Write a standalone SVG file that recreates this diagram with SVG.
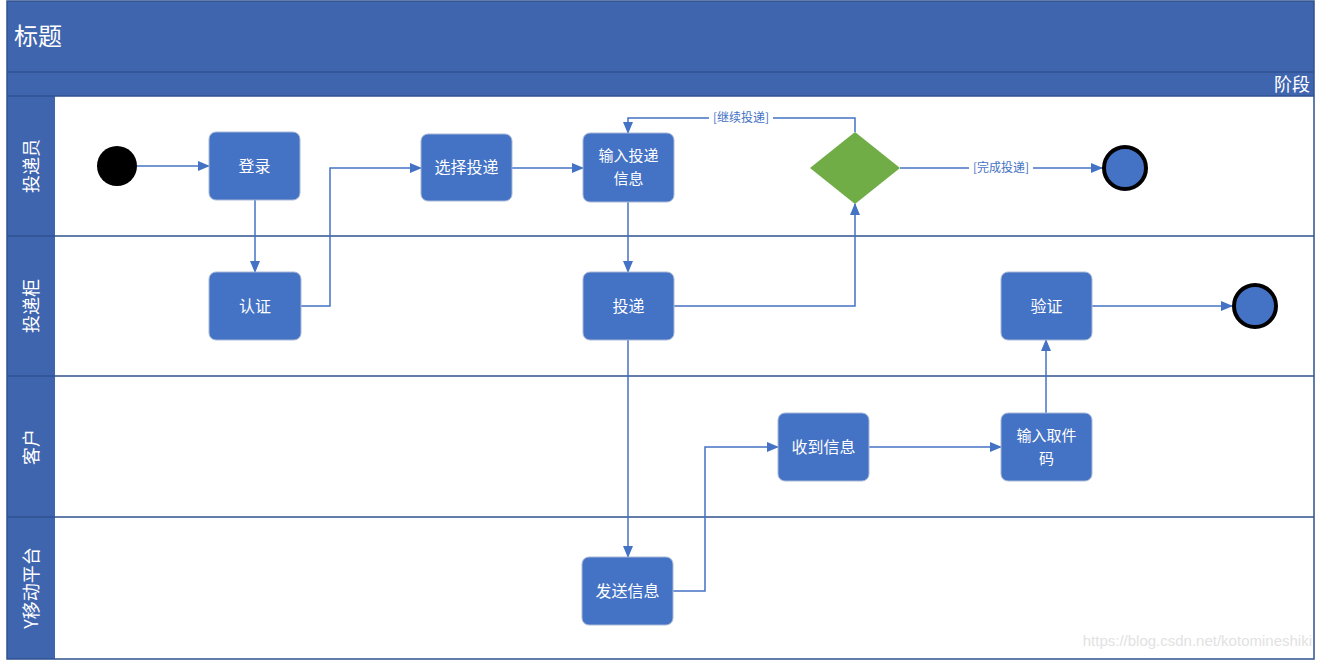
<svg xmlns="http://www.w3.org/2000/svg" width="1322" height="660" viewBox="0 0 1322 660">
<defs>
<style>
.hdr{fill:#3F65AE}
.sep{stroke:#2F528F;stroke-width:1.5;fill:none}
.node rect{fill:#4472C4;stroke:#A9B8D6;stroke-width:1}
.nt{font-family:"Noto Sans CJK SC","Liberation Sans",sans-serif;font-size:16px;fill:#FFFFFF;text-anchor:middle}
.nt2{font-family:"Noto Sans CJK SC","Liberation Sans",sans-serif;font-size:15px;fill:#FFFFFF;text-anchor:middle}
.lt{font-family:"Noto Sans CJK SC","Liberation Sans",sans-serif;font-size:18px;fill:#FFFFFF;text-anchor:middle}
.edge{stroke:#4472C4;stroke-width:1.5;fill:none}
.el{font-family:"Noto Sans CJK SC","Liberation Sans",sans-serif;font-size:12px;fill:#4472C4;text-anchor:middle}
</style>
<marker id="arr" markerWidth="12" markerHeight="10" refX="11" refY="5" orient="auto" markerUnits="userSpaceOnUse">
<path d="M0,0 L12,5 L0,10 Z" fill="#4472C4"/>
</marker>
</defs>
<rect width="1322" height="660" fill="#FFFFFF"/>
<g id="frame">
<rect x="7" y="1" width="1307" height="95" class="hdr"/>
<line x1="7" y1="72" x2="1314" y2="72" class="sep"/>
<rect x="7" y="96" width="48" height="563" class="hdr"/>
<rect x="7" y="1" width="1307" height="658" class="sep"/>
<line x1="7" y1="96" x2="1314" y2="96" class="sep"/>
<line x1="7" y1="236" x2="1314" y2="236" class="sep"/>
<line x1="7" y1="376" x2="1314" y2="376" class="sep"/>
<line x1="7" y1="517" x2="1314" y2="517" class="sep"/>
<text x="14" y="45" font-family="Noto Sans CJK SC,Liberation Sans,sans-serif" font-size="24" fill="#FFFFFF">标题</text>
<text x="1310" y="91" font-family="Noto Sans CJK SC,Liberation Sans,sans-serif" font-size="18" fill="#FFFFFF" text-anchor="end">阶段</text>
<text class="lt" transform="translate(38,166) rotate(-90)">投递员</text>
<text class="lt" transform="translate(38,306) rotate(-90)">投递柜</text>
<text class="lt" transform="translate(38,447) rotate(-90)">客户</text>
<text class="lt" transform="translate(38,588) rotate(-90)">Y移动平台</text>
</g>
<g id="connectors">
<path class="edge" d="M137,166 H209" marker-end="url(#arr)"/>
<path class="edge" d="M255,200 V272" marker-end="url(#arr)"/>
<path class="edge" d="M301,306 H330 V168 H421" marker-end="url(#arr)"/>
<path class="edge" d="M512,168 H583" marker-end="url(#arr)"/>
<path class="edge" d="M628,202 V272" marker-end="url(#arr)"/>
<path class="edge" d="M674,306 H855 V204" marker-end="url(#arr)"/>
<path class="edge" d="M855,132 V118 H628 V133" marker-end="url(#arr)"/>
<path class="edge" d="M900,168 H1102" marker-end="url(#arr)"/>
<path class="edge" d="M628,340 V557" marker-end="url(#arr)"/>
<path class="edge" d="M673,591 H705 V447 H778" marker-end="url(#arr)"/>
<path class="edge" d="M869,447 H1001" marker-end="url(#arr)"/>
<path class="edge" d="M1046,413 V340" marker-end="url(#arr)"/>
<path class="edge" d="M1092,306 H1232" marker-end="url(#arr)"/>
<rect x="709" y="110" width="64" height="16" fill="#FFFFFF"/>
<text class="el" x="741" y="122">[继续投递]</text>
<rect x="969" y="160" width="64" height="16" fill="#FFFFFF"/>
<text class="el" x="1001" y="172">[完成投递]</text>
</g>
<g id="start"><circle cx="117" cy="166" r="20" fill="#000000"/></g>
<g id="n_login" class="node"><rect x="209" y="132" width="91" height="68" rx="7"/><text class="nt" x="254.5" y="172">登录</text></g>
<g id="n_auth" class="node"><rect x="209" y="272" width="92" height="68" rx="7"/><text class="nt" x="255" y="312">认证</text></g>
<g id="n_select" class="node"><rect x="421" y="134" width="91" height="67" rx="7"/><text class="nt" x="466.5" y="173">选择投递</text></g>
<g id="n_input" class="node"><rect x="583" y="133" width="91" height="69" rx="7"/><text class="nt2" x="628.5" y="161">输入投递</text><text class="nt2" x="628.5" y="184">信息</text></g>
<g id="n_deliver" class="node"><rect x="583" y="272" width="91" height="68" rx="7"/><text class="nt" x="628.5" y="312">投递</text></g>
<g id="decision"><polygon points="855,132 900,168 855,204 810,168" fill="#70AD47"/></g>
<g id="end1"><circle cx="1125" cy="168" r="21" fill="#4472C4" stroke="#000000" stroke-width="4"/></g>
<g id="n_verify" class="node"><rect x="1001" y="272" width="91" height="68" rx="7"/><text class="nt" x="1046.5" y="312">验证</text></g>
<g id="end2"><circle cx="1255" cy="306" r="21" fill="#4472C4" stroke="#000000" stroke-width="4"/></g>
<g id="n_recv" class="node"><rect x="778" y="413" width="91" height="68" rx="7"/><text class="nt" x="823.5" y="453">收到信息</text></g>
<g id="n_code" class="node"><rect x="1001" y="413" width="91" height="68" rx="7"/><text class="nt2" x="1046.5" y="441">输入取件</text><text class="nt2" x="1046.5" y="464">码</text></g>
<g id="n_send" class="node"><rect x="582" y="557" width="91" height="68" rx="7"/><text class="nt" x="627.5" y="597">发送信息</text></g>
<text x="1312" y="646" font-family="Liberation Sans,sans-serif" font-size="15" fill="#E2E2E2" text-anchor="end">https://blog.csdn.net/kotomineshiki</text>
</svg>
